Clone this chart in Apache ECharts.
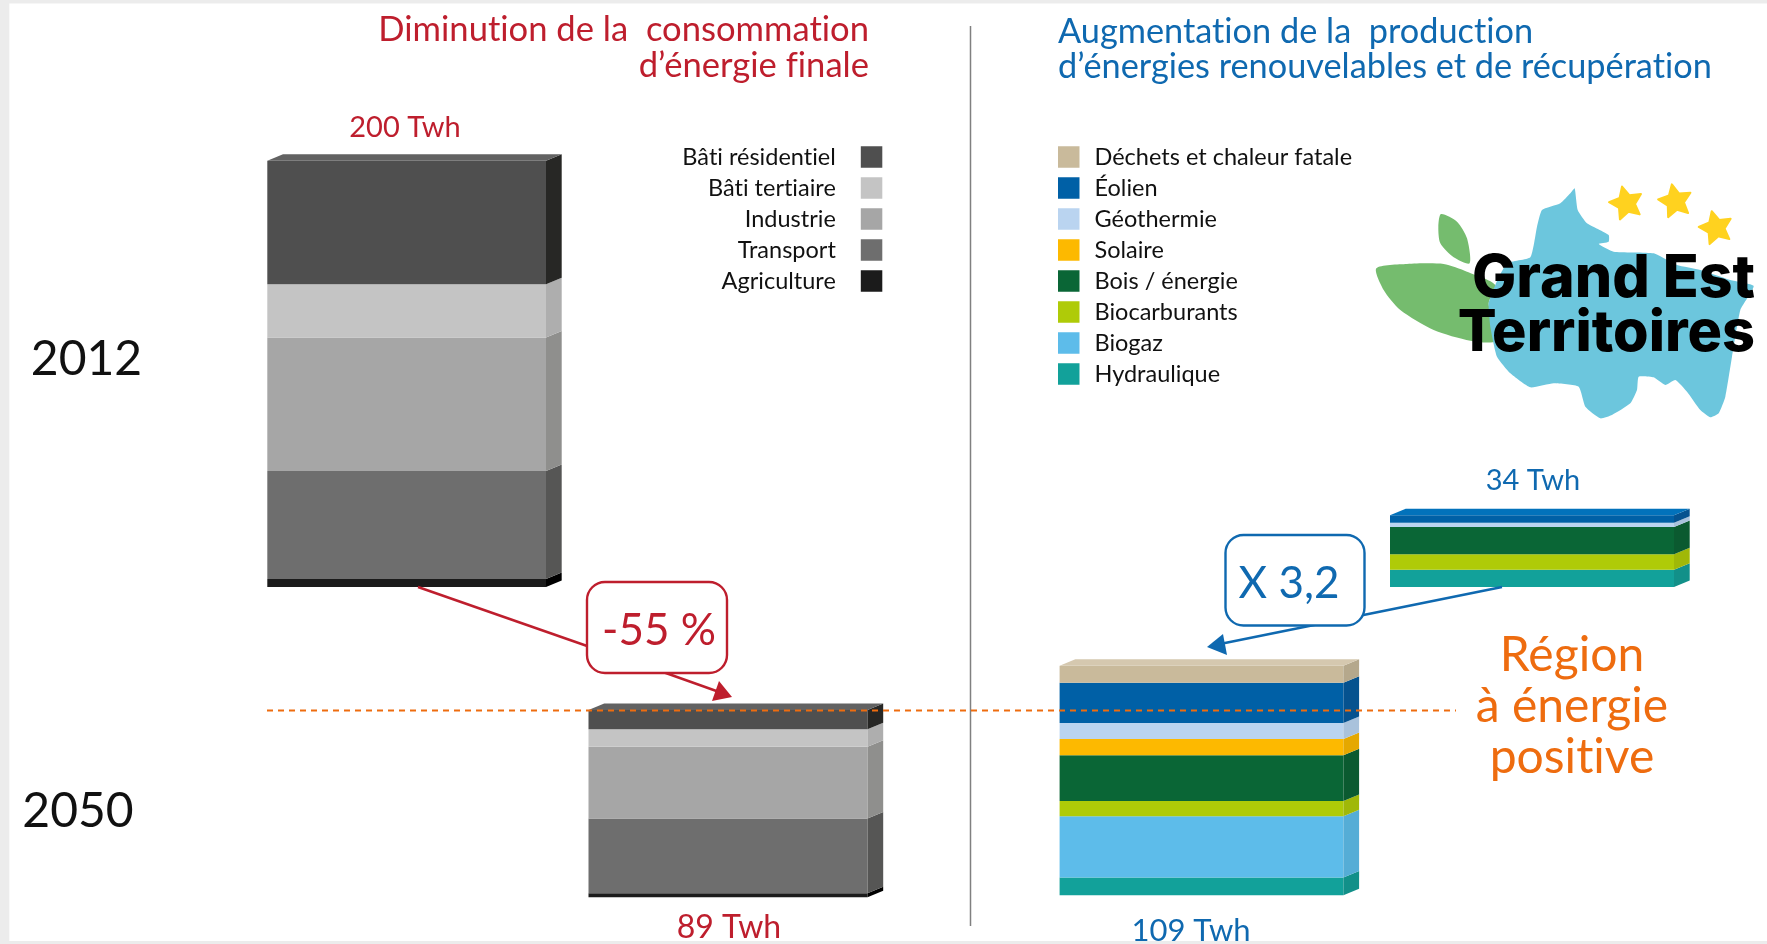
<!DOCTYPE html>
<html>
<head>
<meta charset="utf-8">
<title>Grand Est Territoires</title>
<style>
html, body { margin: 0; padding: 0; background: #fff; }
#chart { width: 1767px; height: 944px; }
</style>
<script src="https://cdn.jsdelivr.net/npm/echarts@6/dist/echarts.min.js"></script>
</head>
<body>
<div id="chart"></div>
<script>
// pas de ligatures "ti" / "fi" dans le canvas
var getCtx = HTMLCanvasElement.prototype.getContext;
HTMLCanvasElement.prototype.getContext = function () {
    var ctx = getCtx.apply(this, arguments);
    if (ctx && 'textRendering' in ctx) ctx.textRendering = 'optimizeSpeed';
    return ctx;
};

// donnees (Twh), du haut vers le bas de chaque pile
var consoNames = ['Bâti résidentiel', 'Bâti tertiaire', 'Industrie', 'Transport', 'Agriculture'];
var conso2012 = [58, 24.9, 62.7, 50.7, 3.7];
var conso2050 = [9.2, 8.3, 34, 35.6, 1.9];

var prodNames = ['Déchets et chaleur fatale', 'Éolien', 'Géothermie', 'Solaire', 'Bois / énergie', 'Biocarburants', 'Biogaz', 'Hydraulique'];
var prod2012 = [0, 3.5, 2, 0, 13, 7.3, 0, 8.2];
var prod2050 = [8.1, 19.1, 7.6, 7.7, 21.7, 7.3, 29.1, 8.4];

var consoTotals = [200, 89];
var prodTotals = [34, 109];

// couleurs : face avant, face cote, dessus
var consoFront = ['#4f4f4f', '#c4c4c4', '#a6a6a6', '#6e6e6e', '#1b1b1b'];
var consoSide = ['#272725', '#aeaeae', '#8f8f8d', '#565655', '#000000'];
var consoTop = ['#626262', '#d0d0d0', '#b4b4b4', '#7c7c7c', '#333333'];
var prodFront = ['#c9ba9b', '#0060a6', '#bad4f0', '#fdb900', '#0a6636', '#afcb08', '#5dbcea', '#12a19a'];
var prodSide = ['#b5a88c', '#05528f', '#a9c2dc', '#e5a800', '#0b5a30', '#a0b808', '#55add6', '#129089'];
var prodTop = ['#d5c8af', '#0272bb', '#cfe0f4', '#ffcb33', '#1b7a48', '#bfd92a', '#7ccbf0', '#2ab3ac'];

var RED = '#be1e2d', BLUE = '#0f69b0', ORANGE = '#ee6c0f';
var FONT = 'Lato';
var dx = 15.7, dy = 6.5;

var grids = [
    { left: 267.3, top: 160.7, width: 278.7, height: 426.3 },
    { left: 588.5, top: 710, width: 279, height: 187.3 },
    { left: 1390, top: 515.3, width: 284, height: 71.7 },
    { left: 1059.6, top: 665.7, width: 283.8, height: 229.6 }
];
var totals = [consoTotals[0], consoTotals[1], prodTotals[0], prodTotals[1]];

var xAxes = grids.map(function (g, i) {
    return { gridIndex: i, type: 'category', data: ['Twh'], show: false };
});
var yAxes = grids.map(function (g, i) {
    return { gridIndex: i, type: 'value', min: 0, max: totals[i], show: false };
});

function renderSlab(params, api) {
    var hi = api.coord([0, api.value(2)]);
    var lo = api.coord([0, api.value(1)]);
    var w = api.size([1, 0])[0];
    var xl = hi[0] - w / 2, xr = hi[0] + w / 2;
    var kids = [
        { type: 'polygon', shape: { points: [[xl, hi[1]], [xr, hi[1]], [xr, lo[1]], [xl, lo[1]]] }, style: { fill: api.visual('color') } },
        { type: 'polygon', shape: { points: [[xr, hi[1]], [xr + dx, hi[1] - dy], [xr + dx, lo[1] - dy], [xr, lo[1]]] }, style: { fill: api.value(3) } }
    ];
    if (api.value(4)) {
        kids.push({ type: 'polygon', shape: { points: [[xl, hi[1]], [xl + dx, hi[1] - dy], [xr + dx, hi[1] - dy], [xr, hi[1]]] }, style: { fill: api.value(5) } });
    }
    return { type: 'group', children: kids };
}

// une serie par tranche, empilee depuis le bas
function buildStack(gridIndex, names, values, front, side, top) {
    var out = [];
    var base = 0;
    var firstIdx = values.findIndex(function (v) { return v > 0; });
    for (var i = names.length - 1; i >= 0; i--) {
        if (!values[i]) continue;
        out.push({
            name: names[i],
            type: 'custom',
            xAxisIndex: gridIndex,
            yAxisIndex: gridIndex,
            renderItem: renderSlab,
            itemStyle: { color: front[i] },
            encode: { x: 0, y: 2 },
            data: [[0, base, base + values[i], side[i], i === firstIdx ? 1 : 0, top[i], values[i]]]
        });
        base += values[i];
    }
    return out;
}

var series = []
    .concat(buildStack(0, consoNames, conso2012, consoFront, consoSide, consoTop))
    .concat(buildStack(1, consoNames, conso2050, consoFront, consoSide, consoTop))
    .concat(buildStack(2, prodNames, prod2012, prodFront, prodSide, prodTop))
    .concat(buildStack(3, prodNames, prod2050, prodFront, prodSide, prodTop));

function label(text, x, y, size, color, align, weight, family) {
    return {
        type: 'text', z: 30, x: x, y: y,
        style: { text: text, fill: color, font: (weight || 'normal') + ' ' + size + 'px ' + (family || FONT), align: align || 'center', verticalAlign: 'middle' }
    };
}

function star(cx, cy, r, rot) {
    var pts = [];
    for (var i = 0; i < 10; i++) {
        var a = rot + i * Math.PI / 5;
        var rr = i % 2 ? r * 0.5 : r;
        pts.push([cx + rr * Math.sin(a), cy - rr * Math.cos(a)]);
    }
    return { type: 'polygon', z: 5, shape: { points: pts }, style: { fill: '#ffd21f', stroke: '#ffd21f', lineWidth: 6, lineJoin: 'round' } };
}

// logo : coordonnees dans un repere local au logo
var logo = {
    type: 'group', x: 1367, y: 170, scaleX: 1 / 3, scaleY: 1 / 3,
    children: [
        { type: 'polygon', z: 4, shape: { smooth: 0.25, points: [[28, 295], [120, 282], [230, 282], [300, 305], [385, 345], [365, 400], [385, 512], [310, 512], [200, 480], [100, 420], [50, 360]] }, style: { fill: '#75bc6e' } },
        { type: 'polygon', z: 4, shape: { smooth: 0.25, points: [[222, 132], [270, 155], [300, 205], [308, 280], [260, 262], [220, 220], [214, 170]] }, style: { fill: '#75bc6e' } },
        { type: 'polygon', z: 5, shape: { smooth: 0.15, points: [[623, 55], [632, 120], [660, 160], [725, 195], [725, 215], [695, 222], [740, 245], [860, 250], [930, 285], [1000, 300], [1090, 330], [1160, 348], [1120, 420], [1095, 560], [1075, 680], [1055, 730], [1030, 742], [1000, 720], [960, 665], [925, 630], [895, 645], [860, 622], [815, 620], [810, 660], [790, 700], [735, 735], [700, 745], [655, 710], [635, 650], [560, 640], [490, 652], [430, 610], [390, 560], [370, 470], [365, 400], [385, 345], [420, 280], [490, 262], [510, 170], [525, 120], [580, 100], [610, 70]] }, style: { fill: '#6cc6dd' } },
        star(778, 100, 52, -0.25),
        star(925, 94, 52, -0.2),
        star(1047, 174, 52, -0.25)
    ]
};

var graphics = [
    { type: 'rect', z: -1, shape: { x: 9.3, y: 3.5, width: 1758, height: 937.5 }, style: { fill: '#ffffff' } },
    { type: 'line', z: 1, shape: { x1: 970.5, y1: 26, x2: 970.5, y2: 926 }, style: { stroke: '#808080', lineWidth: 1.5 } },
    { type: 'line', z: 20, shape: { x1: 267, y1: 710.5, x2: 1456, y2: 710.5 }, style: { stroke: ORANGE, lineWidth: 1.8, lineDash: [6, 5] } },

    // fleche rouge et cartouche
    { type: 'line', z: 10, shape: { x1: 418, y1: 587, x2: 590, y2: 647 }, style: { stroke: RED, lineWidth: 2.4 } },
    { type: 'line', z: 10, shape: { x1: 663, y1: 672, x2: 722, y2: 693 }, style: { stroke: RED, lineWidth: 2.4 } },
    { type: 'polygon', z: 10, shape: { points: [[732, 697], [719, 681], [712, 701]] }, style: { fill: RED } },
    { type: 'rect', z: 11, shape: { x: 587, y: 582, width: 140, height: 91, r: 18 }, style: { fill: '#fff', stroke: RED, lineWidth: 2.4 } },
    label('-55 %', 659, 631, 44, RED),

    // fleche bleue et cartouche
    { type: 'line', z: 10, shape: { x1: 1502, y1: 587, x2: 1220, y2: 644 }, style: { stroke: BLUE, lineWidth: 2.6 } },
    { type: 'polygon', z: 10, shape: { points: [[1207, 647], [1223, 634], [1227, 655]] }, style: { fill: BLUE } },
    { type: 'rect', z: 11, shape: { x: 1225.5, y: 535, width: 139, height: 90.5, r: 18 }, style: { fill: '#fff', stroke: BLUE, lineWidth: 2.4 } },
    label('X 3,2', 1289, 584, 44, BLUE),

    label(consoTotals[0] + ' Twh', 405, 128, 29, RED),
    label(consoTotals[1] + ' Twh', 729, 928, 32, RED),
    label(prodTotals[0] + ' Twh', 1533, 481, 29, BLUE),
    label(prodTotals[1] + ' Twh', 1191, 931, 31, BLUE),

    label('Diminution de la  consommation', 869, 30, 34.6, RED, 'right'),
    label('d’énergie finale', 869, 66, 34.6, RED, 'right'),
    label('Augmentation de la  production', 1058, 32, 34.3, BLUE, 'left'),
    label('d’énergies renouvelables et de récupération', 1058, 67, 34.3, BLUE, 'left'),

    label('2012', 86.5, 359.5, 48, '#111'),
    label('2050', 78, 811.5, 48, '#111'),

    label('Région', 1572, 656, 48, ORANGE),
    label('à énergie', 1572, 707, 48, ORANGE),
    label('positive', 1572, 758, 48, ORANGE),

    logo,
    label('Grand Est', 1755, 279, 59, '#000', 'right', '800', 'Inter'),
    label('Territoires', 1755, 334, 57.5, '#000', 'right', '800', 'Inter')
];

var myChart = echarts.init(document.getElementById('chart'));
var option = {
    backgroundColor: '#ececec',
    animation: false,
    tooltip: {
        trigger: 'item',
        formatter: function (p) { return p.seriesName + ' : ' + p.value[6] + ' Twh'; }
    },
    legend: [
        {
            data: consoNames, orient: 'vertical', align: 'right', right: 884.7, top: 145, padding: 0,
            icon: 'rect', itemWidth: 21.5, itemHeight: 21.5, itemGap: 7,
            textStyle: { fontFamily: FONT, fontSize: 23.5, color: '#111', padding: [0, 20, 0, 0] }
        },
        {
            data: prodNames, orient: 'vertical', align: 'left', left: 1058, top: 145, padding: 0,
            icon: 'rect', itemWidth: 21.5, itemHeight: 21.5, itemGap: 7,
            textStyle: { fontFamily: FONT, fontSize: 23.5, color: '#111', padding: [0, 0, 0, 10] }
        }
    ],
    grid: grids,
    xAxis: xAxes,
    yAxis: yAxes,
    series: series,
    graphic: graphics
};
myChart.setOption(option);
</script>
</body>
</html>
